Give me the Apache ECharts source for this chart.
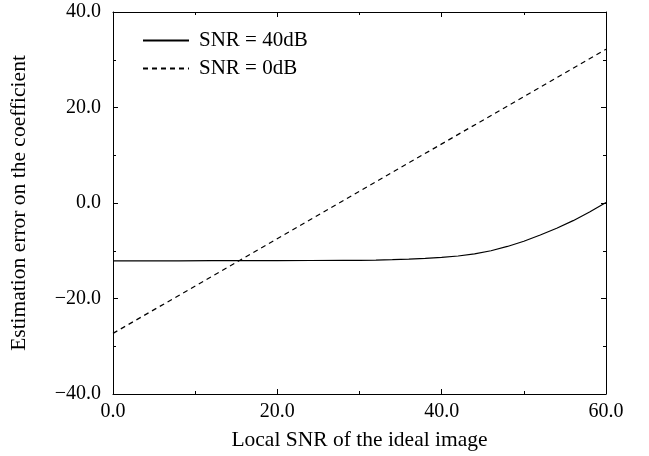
<!DOCTYPE html>
<html>
<head>
<meta charset="utf-8">
<script src="https://cdn.jsdelivr.net/npm/echarts@6/dist/echarts.min.js"></script>
<style>html,body{margin:0;padding:0;background:#fff}#c{width:649px;height:456px}</style>
</head>
<body>
<div id="c"></div>
<script>
const xTicks = [0, 20, 40, 60];
const yTicks = [-40, -20, 0, 20, 40];
const seriesNames = ['SNR = 40dB', 'SNR = 0dB'];
const snr40X = [0, 4, 8, 12, 16, 20, 24, 28, 30, 32, 34, 36, 38, 40, 42, 44, 46, 48, 50, 52, 54, 56, 58, 60];
const snr40Y = [-12.1, -12.1, -12.1, -12.08, -12.07, -12.06, -12.04, -12.02, -12.0, -11.95, -11.87, -11.75, -11.6, -11.4, -11.1, -10.65, -10.0, -9.1, -8.0, -6.7, -5.3, -3.7, -1.9, 0.1];
const snr0X = [0, 60];
const snr0Y = [-27.3, 32.2];

const FONT = 'Liberation Serif';
const fmt = v => (v < 0 ? '\u2212' : '') + Math.abs(v).toFixed(1);

const chart = echarts.init(document.getElementById('c'), null, {renderer: 'canvas'});
const axisCommon = {
  type: 'value',
  axisLine: {show: true, onZero: false, lineStyle: {color: '#000', width: 1}},
  axisTick: {show: true, inside: true, length: 5, lineStyle: {color: '#000'}},
  minorTick: {show: true, splitNumber: 2, length: 3, lineStyle: {color: '#000'}},
  splitLine: {show: false},
  nameTextStyle: {fontFamily: FONT, fontSize: 21.5, color: '#000'}
};
chart.setOption({
  animation: false,
  backgroundColor: '#fff',
  grid: {left: 113, right: 43, top: 12, bottom: 60},
  legend: {
    orient: 'vertical', left: 142, top: 30, padding: 0,
    itemWidth: 46, itemHeight: 14, itemGap: 7,
    itemStyle: {opacity: 0},
    textStyle: {fontFamily: FONT, fontSize: 21, color: '#000', padding: [0, 0, 0, 5]},
    data: seriesNames
  },
  xAxis: [
    Object.assign({}, axisCommon, {
      min: xTicks[0], max: xTicks[xTicks.length - 1], interval: 20,
      position: 'bottom',
      name: 'Local SNR of the ideal image', nameLocation: 'middle', nameGap: 35,
      axisLabel: {fontFamily: FONT, fontSize: 20, color: '#000', margin: 8, formatter: fmt}
    }),
    Object.assign({}, axisCommon, {
      min: xTicks[0], max: xTicks[xTicks.length - 1], interval: 20,
      position: 'top', axisLabel: {show: false}
    })
  ],
  yAxis: [
    Object.assign({}, axisCommon, {
      min: yTicks[0], max: yTicks[yTicks.length - 1], interval: 20,
      position: 'left',
      name: 'Estimation error on the coefficient', nameLocation: 'middle', nameGap: 83,
      axisLabel: {fontFamily: FONT, fontSize: 20, color: '#000', margin: 12, formatter: fmt}
    }),
    Object.assign({}, axisCommon, {
      min: yTicks[0], max: yTicks[yTicks.length - 1], interval: 20,
      position: 'right', axisLabel: {show: false}
    })
  ],
  series: [
    {
      name: seriesNames[0], type: 'line', smooth: false, symbol: 'none',
      data: snr40X.map((x, i) => [x, snr40Y[i]]),
      lineStyle: {color: '#000', width: 1.2, type: 'solid'},
      itemStyle: {color: '#000'}
    },
    {
      name: seriesNames[1], type: 'line', symbol: 'none',
      data: snr0X.map((x, i) => [x, snr0Y[i]]),
      lineStyle: {color: '#000', width: 1.2, type: [5, 4]},
      itemStyle: {color: '#000'}
    }
  ]
});
</script>
</body>
</html>
